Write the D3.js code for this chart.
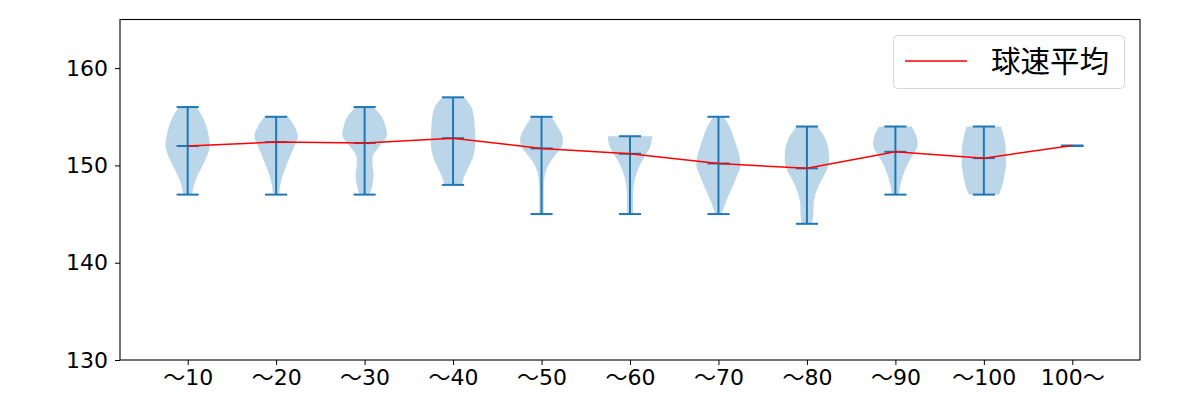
<!DOCTYPE html>
<html>
<head>
<meta charset="utf-8">
<script src="https://cdn.jsdelivr.net/npm/d3@7/dist/d3.min.js"></script>
<style>
  html, body { margin: 0; padding: 0; background: #fff; }
  svg { display: block; }
</style>
</head>
<body>
<svg id="chart" width="1200" height="400"></svg>
<script>
// ---- data ----
const categories = ["〜10", "〜20", "〜30", "〜40", "〜50", "〜60", "〜70", "〜80", "〜90", "〜100", "100〜"];
const means = [152.0, 152.4, 152.3, 152.8, 151.75, 151.2, 150.2, 149.7, 151.4, 150.75, 152.05];
const mins  = [147, 147, 147, 148, 145, 145, 145, 144, 147, 147, 152];
const maxs  = [156, 155, 156, 157, 155, 153, 155, 154, 154, 154, 152];
// relative violin half-widths, sampled at every 1 km/h from min up to max
const shape1  = [0.20, 0.29, 0.45, 0.68, 0.88, 1.00, 0.95, 0.85, 0.67, 0.40];
const shape2  = [0.14, 0.19, 0.30, 0.47, 0.64, 0.83, 0.98, 0.83, 0.53];
const shape3  = [0.23, 0.35, 0.41, 0.36, 0.38, 0.68, 1.00, 0.95, 0.78, 0.40];
const shape4  = [0.38, 0.53, 0.74, 0.92, 1.00, 1.00, 0.98, 0.94, 0.83, 0.49];
const shape5  = [0.10, 0.10, 0.10, 0.11, 0.15, 0.30, 0.60, 0.92, 0.95, 0.72, 0.45];
const shape6  = [0.14, 0.14, 0.14, 0.17, 0.27, 0.44, 0.68, 0.93, 1.00];
const shape7  = [0.15, 0.30, 0.48, 0.67, 0.85, 1.00, 0.95, 0.82, 0.67, 0.50, 0.23];
const shape8  = [0.23, 0.29, 0.30, 0.38, 0.55, 0.78, 0.97, 1.00, 0.95, 0.78, 0.46];
const shape9  = [0.15, 0.23, 0.35, 0.52, 0.77, 1.00, 0.95, 0.74];
const shape10 = [0.68, 0.84, 0.93, 1.00, 1.00, 0.98, 0.90, 0.78];
const shape11 = [];
const shapes = [shape1, shape2, shape3, shape4, shape5, shape6, shape7, shape8, shape9, shape10, shape11];
const yTicks = [130, 140, 150, 160];
const legendLabel = "球速平均";

// ---- layout ----
const svg = d3.select("#chart");
const L = 120, R = 1140, T = 19.5, B = 360;
const blue = "#1f77b4";
const tickFont = "\"DejaVu Sans\", \"Noto Sans CJK JP\", sans-serif";

const x = d3.scaleLinear().domain([0.235, 11.765]).range([L, R]);
const y = d3.scaleLinear().domain([130, 165]).range([B, T]);
const unit = x(1) - x(0);
const halfMax = 0.25 * unit;   // max half-width of a violin body
const capHalf = 0.125 * unit;  // half-length of cap / mean bars

const positions = categories.map((c, i) => i + 1);

// violin bodies
const area = d3.area()
  .curve(d3.curveCatmullRom.alpha(0.5))
  .y(d => y(d.v))
  .x0(d => d.cx - d.w * halfMax)
  .x1(d => d.cx + d.w * halfMax);

const gBodies = svg.append("g");
shapes.forEach((s, i) => {
  if (s.length < 2) return;
  const pts = s.map((w, k) => ({ v: mins[i] + k, w: w, cx: x(positions[i]) }));
  gBodies.append("path")
    .attr("d", area(pts))
    .attr("fill", blue)
    .attr("fill-opacity", 0.3)
    .attr("stroke", "none");
});

// bars, caps, means
const gLines = svg.append("g").attr("stroke", blue).attr("stroke-width", 2);
positions.forEach((p, i) => {
  const cx = x(p);
  gLines.append("line").attr("x1", cx).attr("x2", cx).attr("y1", y(mins[i])).attr("y2", y(maxs[i]));
  [mins[i], maxs[i], means[i]].forEach(v => {
    gLines.append("line").attr("x1", cx - capHalf).attr("x2", cx + capHalf).attr("y1", y(v)).attr("y2", y(v));
  });
});

// mean line
const line = d3.line().x((d, i) => x(positions[i])).y(d => y(d));
svg.append("path")
  .attr("d", line(means))
  .attr("fill", "none")
  .attr("stroke", "red")
  .attr("stroke-width", 1.5);

// axes
const xAxis = d3.axisBottom(x).tickValues(positions).tickFormat((d, i) => categories[i]).tickSize(5).tickPadding(4);
const yAxis = d3.axisLeft(y).tickValues(yTicks).tickSize(5).tickPadding(7);

const gx = svg.append("g").attr("transform", `translate(0,${B})`).call(xAxis);
const gy = svg.append("g").attr("transform", `translate(${L},0)`).call(yAxis);
[gx, gy].forEach(g => {
  g.select(".domain").remove();
  g.selectAll("line").attr("stroke", "#000").attr("stroke-width", 1);
  g.selectAll("text").style("font-size", "22px").style("font-family", tickFont).attr("fill", "#000");
});

// frame
svg.append("rect")
  .attr("x", L).attr("y", T).attr("width", R - L).attr("height", B - T)
  .attr("fill", "none").attr("stroke", "#000").attr("stroke-width", 1.1);

// legend
const lg = svg.append("g");
lg.append("rect")
  .attr("x", 893.5).attr("y", 35.5).attr("width", 231).attr("height", 53).attr("rx", 4)
  .attr("fill", "#fff").attr("fill-opacity", 0.8).attr("stroke", "#d6d6d6").attr("stroke-width", 1);
lg.append("line").attr("x1", 905).attr("x2", 967).attr("y1", 61).attr("y2", 61)
  .attr("stroke", "red").attr("stroke-width", 1.5);
lg.append("text").attr("x", 991).attr("y", 61).attr("dy", "0.36em")
  .style("font-family", "\"Noto Sans CJK JP\", sans-serif").style("font-size", "29.5px")
  .attr("fill", "#000").text(legendLabel);
</script>
</body>
</html>
